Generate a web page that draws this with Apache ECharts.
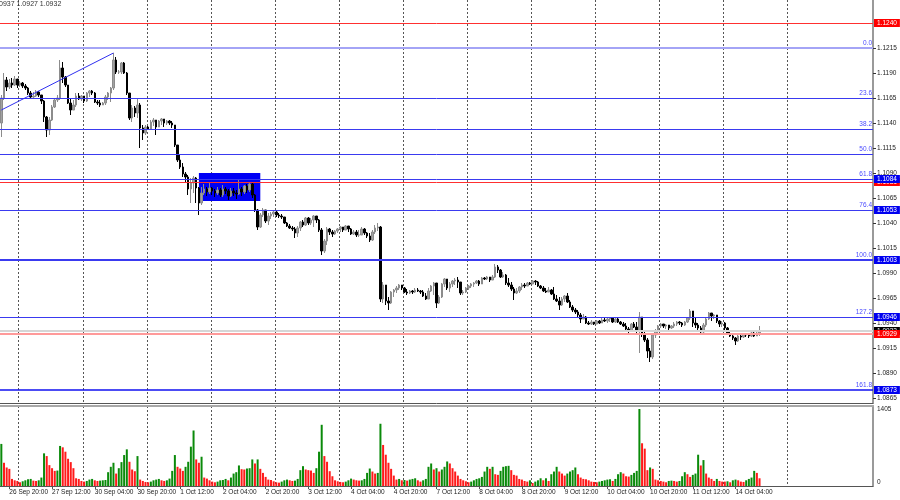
<!DOCTYPE html>
<html>
<head>
<meta charset="utf-8">
<script src="https://cdn.jsdelivr.net/npm/echarts@6/dist/echarts.min.js"></script>
<style>html,body{margin:0;padding:0;background:#fff}#c{width:900px;height:500px}</style>
</head>
<body>
<div id="c"></div>
<script>
// ---- data (EURUSD H1) ----
const headerText = '0937 1.0927 1.0932';
const open0 = 1.1140;
const closes = [
1.1165,1.1183,1.1176,1.1180,1.1178,1.1184,1.1178,1.1180,1.1177,1.1175,
1.1170,1.1166,1.1167,1.1171,1.1168,1.1162,1.1146,1.1133,1.1143,1.1156,
1.1163,1.1165,1.1195,1.1186,1.1178,1.1160,1.1153,1.1158,1.1167,1.1164,
1.1167,1.1162,1.1170,1.1172,1.1170,1.1161,1.1160,1.1158,1.1160,1.1166,
1.1170,1.1175,1.1203,1.1191,1.1191,1.1200,1.1190,1.1170,1.1145,1.1155,
1.1150,1.1158,1.1135,1.1130,1.1136,1.1134,1.1141,1.1143,1.1136,1.1142,
1.1144,1.1140,1.1142,1.1140,1.1138,1.1118,1.1103,1.1096,1.1089,1.1086,
1.1074,1.1080,1.1085,1.1075,1.1060,1.1070,1.1074,1.1071,1.1075,1.1072,
1.1070,1.1073,1.1068,1.1074,1.1072,1.1067,1.1072,1.1070,1.1069,1.1074,
1.1071,1.1077,1.1073,1.1079,1.1068,1.1053,1.1036,1.1048,1.1053,1.1042,
1.1047,1.1049,1.1051,1.1048,1.1047,1.1046,1.1040,1.1037,1.1035,1.1034,
1.1030,1.1035,1.1041,1.1038,1.1045,1.1040,1.1043,1.1047,1.1043,1.1033,
1.1012,1.1022,1.1034,1.1031,1.1029,1.1032,1.1034,1.1036,1.1033,1.1037,
1.1034,1.1029,1.1031,1.1028,1.1028,1.1034,1.1030,1.1027,1.1023,1.1031,
1.1035,1.1036,1.0964,1.0978,1.0962,1.0960,1.0971,1.0973,1.0975,1.0978,
1.0975,1.0971,1.0970,1.0972,1.0971,1.0973,1.0972,1.0971,1.0967,1.0964,
1.0972,1.0977,1.0980,1.0960,1.0966,1.0979,1.0984,1.0975,1.0979,1.0982,
1.0983,1.0981,1.0970,1.0971,1.0975,1.0977,1.0979,1.0980,1.0982,1.0979,
1.0985,1.0984,1.0986,1.0983,1.0986,1.0996,1.0993,1.0986,1.0988,1.0980,
1.0978,1.0974,1.0970,1.0972,1.0976,1.0978,1.0977,1.0980,1.0979,1.0982,
1.0981,1.0977,1.0975,1.0972,1.0971,1.0973,1.0969,1.0964,1.0962,1.0958,
1.0964,1.0967,1.0961,1.0956,1.0953,1.0951,1.0948,1.0944,1.0946,1.0940,
1.0939,1.0941,1.0939,1.0942,1.0940,1.0943,1.0942,1.0944,1.0945,1.0941,
1.0944,1.0941,1.0939,1.0937,1.0934,1.0932,1.0939,1.0936,1.0933,1.0946,
1.0929,1.0923,1.0912,1.0906,1.0928,1.0932,1.0937,1.0939,1.0937,1.0938,
1.0935,1.0937,1.0939,1.0941,1.0940,1.0938,1.0941,1.0945,1.0952,1.0940,
1.0938,1.0935,1.0931,1.0938,1.0944,1.0950,1.0947,1.0948,1.0942,1.0939,
1.0940,1.0935,1.0929,1.0927,1.0925,1.0922,1.0927,1.0926,1.0929,1.0928,
1.0927,1.0930,1.0927,1.0930,1.0932];
const highs = [
1.1168,1.1190,1.1186,1.1184,1.1185,1.1187,1.1184,1.1182,1.1181,1.1179,
1.1176,1.1172,1.1171,1.1173,1.1172,1.1168,1.1163,1.1147,1.1146,1.1158,
1.1165,1.1168,1.1203,1.1201,1.1187,1.1178,1.1165,1.1163,1.1170,1.1170,
1.1168,1.1166,1.1171,1.1173,1.1173,1.1171,1.1163,1.1163,1.1161,1.1168,
1.1171,1.1176,1.1210,1.1206,1.1193,1.1201,1.1201,1.1191,1.1170,1.1158,
1.1157,1.1165,1.1160,1.1138,1.1138,1.1137,1.1143,1.1145,1.1143,1.1143,
1.1145,1.1143,1.1143,1.1143,1.1142,1.1138,1.1118,1.1108,1.1100,1.1091,
1.1088,1.1085,1.1087,1.1086,1.1076,1.1076,1.1079,1.1076,1.1080,1.1076,
1.1074,1.1076,1.1075,1.1078,1.1076,1.1074,1.1075,1.1075,1.1073,1.1083,
1.1076,1.1078,1.1079,1.1080,1.1080,1.1069,1.1054,1.1050,1.1055,1.1053,
1.1050,1.1051,1.1053,1.1052,1.1050,1.1049,1.1046,1.1041,1.1039,1.1037,
1.1036,1.1037,1.1042,1.1043,1.1046,1.1046,1.1045,1.1048,1.1047,1.1044,
1.1035,1.1024,1.1036,1.1035,1.1033,1.1033,1.1035,1.1037,1.1036,1.1038,
1.1037,1.1035,1.1033,1.1033,1.1033,1.1036,1.1035,1.1031,1.1030,1.1033,
1.1038,1.1040,1.1037,1.0981,1.0976,1.0966,1.0972,1.0974,1.0977,1.0979,
1.0978,1.0976,1.0974,1.0973,1.0973,1.0975,1.0975,1.0973,1.0973,1.0970,
1.0975,1.0978,1.0981,1.0979,1.0968,1.0980,1.0985,1.0983,1.0981,1.0983,
1.0985,1.0986,1.0980,1.0973,1.0976,1.0978,1.0980,1.0981,1.0983,1.0983,
1.0986,1.0986,1.0987,1.0986,1.0988,1.0999,1.0998,1.0994,1.0991,1.0989,
1.0985,1.0981,1.0976,1.0975,1.0977,1.0980,1.0980,1.0981,1.0981,1.0983,
1.0983,1.0982,1.0978,1.0977,1.0975,1.0976,1.0974,1.0976,1.0968,1.0966,
1.0966,1.0968,1.0970,1.0963,1.0958,1.0955,1.0953,1.0950,1.0949,1.0947,
1.0942,1.0943,1.0941,1.0943,1.0943,1.0945,1.0945,1.0946,1.0946,1.0945,
1.0946,1.0945,1.0942,1.0941,1.0940,1.0936,1.0940,1.0941,1.0941,1.0951,
1.0944,1.0931,1.0925,1.0915,1.0930,1.0934,1.0938,1.0940,1.0939,1.0939,
1.0938,1.0938,1.0941,1.0942,1.0942,1.0941,1.0942,1.0946,1.0954,1.0952,
1.0945,1.0940,1.0937,1.0940,1.0945,1.0951,1.0950,1.0949,1.0947,1.0943,
1.0942,1.0941,1.0936,1.0931,1.0928,1.0926,1.0928,1.0930,1.0930,1.0930,
1.0930,1.0931,1.0931,1.0933,1.0937];
const lows = [
1.1126,1.1163,1.1172,1.1174,1.1175,1.1177,1.1175,1.1176,1.1175,1.1173,
1.1168,1.1164,1.1164,1.1166,1.1166,1.1159,1.1141,1.1126,1.1128,1.1142,
1.1155,1.1161,1.1163,1.1180,1.1176,1.1159,1.1148,1.1153,1.1156,1.1163,
1.1162,1.1160,1.1161,1.1166,1.1168,1.1160,1.1158,1.1156,1.1158,1.1158,
1.1163,1.1161,1.1173,1.1189,1.1189,1.1189,1.1189,1.1168,1.1143,1.1141,
1.1146,1.1145,1.1115,1.1123,1.1128,1.1133,1.1134,1.1137,1.1128,1.1136,
1.1138,1.1136,1.1138,1.1138,1.1135,1.1116,1.1101,1.1094,1.1086,1.1081,
1.1068,1.1060,1.1070,1.1060,1.1048,1.1058,1.1068,1.1067,1.1069,1.1068,
1.1066,1.1068,1.1066,1.1066,1.1069,1.1063,1.1066,1.1067,1.1064,1.1068,
1.1067,1.1069,1.1070,1.1071,1.1065,1.1051,1.1033,1.1035,1.1046,1.1040,
1.1038,1.1044,1.1046,1.1046,1.1045,1.1044,1.1039,1.1036,1.1034,1.1032,
1.1025,1.1026,1.1032,1.1036,1.1037,1.1038,1.1038,1.1036,1.1040,1.1031,
1.1008,1.1010,1.1018,1.1028,1.1026,1.1028,1.1030,1.1031,1.1031,1.1033,
1.1031,1.1028,1.1028,1.1026,1.1026,1.1028,1.1028,1.1025,1.1021,1.1022,
1.1029,1.1032,1.0961,1.0960,1.0958,1.0953,1.0959,1.0966,1.0970,1.0973,
1.0973,1.0970,1.0968,1.0969,1.0969,1.0970,1.0971,1.0969,1.0966,1.0963,
1.0964,1.0971,1.0968,1.0955,1.0959,1.0965,1.0976,1.0973,1.0971,1.0976,
1.0978,1.0975,1.0968,1.0968,1.0970,1.0973,1.0975,1.0976,1.0979,1.0977,
1.0979,1.0983,1.0983,1.0981,1.0983,1.0985,1.0990,1.0985,1.0985,1.0978,
1.0976,1.0972,1.0963,1.0969,1.0970,1.0973,1.0975,1.0977,1.0978,1.0979,
1.0978,1.0976,1.0974,1.0971,1.0970,1.0971,1.0968,1.0963,1.0961,1.0953,
1.0957,1.0961,1.0960,1.0955,1.0951,1.0949,1.0946,1.0940,1.0944,1.0939,
1.0938,1.0938,1.0938,1.0939,1.0939,1.0940,1.0941,1.0940,1.0941,1.0940,
1.0940,1.0940,1.0938,1.0936,1.0933,1.0930,1.0931,1.0935,1.0930,1.0910,
1.0926,1.0921,1.0905,1.0901,1.0904,1.0925,1.0929,1.0935,1.0935,1.0934,
1.0933,1.0934,1.0935,1.0937,1.0938,1.0936,1.0937,1.0940,1.0943,1.0936,
1.0935,1.0933,1.0930,1.0930,1.0936,1.0943,1.0942,1.0944,1.0940,1.0936,
1.0936,1.0933,1.0928,1.0926,1.0923,1.0918,1.0921,1.0923,1.0925,1.0926,
1.0925,1.0926,1.0926,1.0928,1.0927];
const volumes = [
768,424,338,313,129,104,92,68,86,104,
123,129,98,92,104,154,596,546,381,325,
276,282,731,706,626,497,436,325,141,129,
92,80,92,117,129,104,92,98,104,110,
252,350,424,227,325,436,565,669,442,301,
270,546,117,92,74,
68,80,104,117,129,104,92,104,135,276,
565,350,319,276,350,442,718,1013,485,424,
534,154,135,104,
80,68,80,104,110,129,104,154,227,252,
375,307,301,319,325,485,411,485,313,239,
166,117,110,86,
68,61,80,104,117,104,92,98,129,289,
362,301,289,282,239,325,626,1117,546,442,
270,178,104,86,
74,68,80,104,135,117,104,98,104,129,
239,319,264,227,239,1136,749,571,424,313,
190,117,129,104,
110,98,117,129,141,104,80,104,129,350,
411,301,325,264,301,350,448,411,325,264,
190,129,104,86,
68,80,104,129,141,166,264,350,313,350,
215,203,276,350,362,368,289,203,190,129,
117,92,80,104,
55,80,104,141,104,141,92,215,264,350,
264,227,190,227,264,289,338,215,154,129,
123,104,80,74,
68,80,92,104,117,123,92,129,215,252,
227,178,172,203,239,276,1405,
780,682,289,338,313,117,104,92,80,68,
92,98,92,80,92,178,252,215,166,203,
227,571,375,473,227,154,129,92,129,92,
80,80,86,68,104,117,104,80,74,104,
129,154,276,239,141];
const totalSlots = 327;
const timeLabels = ['26 Sep 20:00','27 Sep 12:00','30 Sep 04:00','30 Sep 20:00','1 Oct 12:00','2 Oct 04:00',
  '2 Oct 20:00','3 Oct 12:00','4 Oct 04:00','4 Oct 20:00','7 Oct 12:00','8 Oct 04:00','8 Oct 20:00',
  '9 Oct 12:00','10 Oct 04:00','10 Oct 20:00','11 Oct 12:00','14 Oct 04:00'];
const timeLabelBars = [3,19,35,51,67,83,99,115,131,147,163,179,195,211,227,243,259,275];
const dayStartBars = [7,31,55,79,103,127,151,175,199,223,247,271,295];
const priceTicks = [1.0865,1.0890,1.0915,1.0940,1.0965,1.0990,1.1015,1.1040,1.1065,1.1090,1.1115,1.1140,1.1165,1.1190,1.1215];
const volumeTicks = [0,1405];
const fibLevels = ['0.0','23.6','38.2','50.0','61.8','76.4','100.0','127.2','161.8'];
const fibPrices = [1.1215,1.1165,1.1134,1.1109,1.1084,1.1053,1.1003,1.0946,1.0873];
const fibBoxPrices = [1.1084,1.1053,1.1003,1.0946,1.0873];
const redLinePrices = [1.1240,1.1081];
const bidPrice = 1.0929;
const askPrice = 1.0932;
const trendLine = [[0,1.1153],[42,1.1210]];
const zoneBars = [74,97];
const zonePrices = [1.1090,1.1062];

// ---- build ----
const cats = Array.from({length: totalSlots}, (_, i) => String(i));
const labelMap = {};
timeLabelBars.forEach((b, k) => { labelMap[b] = timeLabels[k]; });
const daySet = new Set(dayStartBars);
const candles = closes.map((c, i) => {
  const o = i === 0 ? open0 : closes[i - 1];
  return [o, c, Math.min(lows[i], o, c), Math.max(highs[i], o, c)];
});
const volData = volumes.map((v, i) => ({
  value: v,
  itemStyle: { color: (i === 0 || v > volumes[i - 1]) ? '#0a8a0a' : '#ff1a1a' }
}));
const FONT = 'Liberation Sans, Arial, sans-serif';
const fibColor = '#3a3af0';
const fibLineData = fibLevels.map((name, k) => ({
  yAxis: fibPrices[k], name: name,
  lineStyle: k === 0 ? { color: '#a4a4f6', width: 2, type: 'solid' }
          : (k === 6 ? { color: fibColor, width: 2, type: 'solid' }
          : (k === 8 ? { color: '#1010f0', width: 1.6, type: 'solid' } : { color: fibColor, width: 1, type: 'solid' }))
}));
function box(v, bg) {
  return { yAxis: v, label: { backgroundColor: bg } };
}
const boxData = [
  box(redLinePrices[0], '#ff0000'),
  box(redLinePrices[1], '#ff0000'),
  ...fibBoxPrices.map(p => box(p, '#0000f0')),
  box(askPrice, '#000000'),
  box(bidPrice, '#ff0000')
];

const option = {
  animation: false,
  backgroundColor: '#ffffff',
  textStyle: { fontFamily: FONT },
  title: { text: headerText, left: -1, top: 1, padding: 0,
    textStyle: { fontSize: 7, fontWeight: 'normal', color: '#333', fontFamily: FONT } },
  grid: [
    { left: 0, right: 27, top: 0, bottom: 97 },
    { left: 0, right: 27, top: 406, bottom: 14 }
  ],
  xAxis: [
    { type: 'category', gridIndex: 0, data: cats, boundaryGap: true,
      axisLine: { show: true, onZero: false, lineStyle: { color: '#555', width: 1 } },
      axisTick: { show: false }, axisLabel: { show: false },
      splitLine: { show: true, interval: (i) => daySet.has(i), lineStyle: { color: '#555', width: 1, type: [2, 2] } } },
    { type: 'category', gridIndex: 1, data: cats, boundaryGap: true, position: 'bottom',
      axisLine: { show: true, onZero: false, lineStyle: { color: '#555', width: 1 } },
      axisTick: { show: true, alignWithLabel: true, length: 3, interval: (i) => labelMap[i] !== undefined, lineStyle: { color: '#555' } },
      axisLabel: { show: true, interval: (i) => labelMap[i] !== undefined, formatter: (v) => labelMap[Number(v)] || '',
        align: 'left', margin: 3, fontSize: 6.5, color: '#222', fontFamily: FONT },
      splitLine: { show: true, interval: (i) => daySet.has(i), lineStyle: { color: '#555', width: 1, type: [2, 2] } } },
    { type: 'category', gridIndex: 1, data: cats, boundaryGap: true, position: 'top',
      axisLine: { show: true, onZero: false, lineStyle: { color: '#a8a8a8', width: 2 } },
      axisTick: { show: false }, axisLabel: { show: false }, splitLine: { show: false } }
  ],
  yAxis: [
    { type: 'value', gridIndex: 0, position: 'right', min: 1.0860, max: 1.1263,
      axisLine: { show: true, lineStyle: { color: '#9a9a9a', width: 2 } },
      axisTick: { show: true, customValues: priceTicks, length: 3, lineStyle: { color: '#333' } },
      axisLabel: { show: true, customValues: priceTicks, formatter: (v) => v.toFixed(4), margin: 4,
        fontSize: 6.5, color: '#222', fontFamily: FONT },
      splitLine: { show: false } },
    { type: 'value', gridIndex: 1, position: 'right', min: 0, max: 1460,
      axisLine: { show: true, lineStyle: { color: '#9a9a9a', width: 2 } },
      axisTick: { show: false },
      axisLabel: { show: true, customValues: volumeTicks, margin: 4, fontSize: 6.5, color: '#222', fontFamily: FONT,
        formatter: (v) => v === 0 ? '{z|0}' : String(v),
        rich: { z: { fontSize: 6.5, color: '#222', padding: [0, 0, 8, 0], fontFamily: FONT } } },
      splitLine: { show: false } }
  ],
  series: [
    { name: 'price', type: 'candlestick', xAxisIndex: 0, yAxisIndex: 0, data: candles, barWidth: 2, z: 3,
      itemStyle: { color: '#a2a2a2', color0: '#000000', borderColor: '#8c8c8c', borderColor0: '#000000', borderWidth: 1 },
      markArea: { silent: true, z: 1,
        itemStyle: { color: '#0000f5', opacity: 1 },
        data: [[{ xAxis: zoneBars[0], yAxis: zonePrices[0] }, { xAxis: zoneBars[1], yAxis: zonePrices[1] }]] } },
    { name: 'trend', type: 'line', xAxisIndex: 0, yAxisIndex: 0, data: trendLine, symbol: 'none', z: 4,
      lineStyle: { color: '#3030f0', width: 1 },
      markLine: { silent: true, symbol: ['none', 'none'], z: 4, precision: 4,
        label: { show: true, position: 'insideEndTop', distance: 1, formatter: '{b}', color: '#4a4aff', fontSize: 6.5, fontFamily: FONT },
        data: fibLineData } },
    { name: 'levels', type: 'line', xAxisIndex: 0, yAxisIndex: 0, data: [], symbol: 'none', z: 4,
      markLine: { silent: true, symbol: ['none', 'none'], z: 4, precision: 4, label: { show: false },
        data: [
          { yAxis: redLinePrices[0], lineStyle: { color: '#ff3030', width: 1, type: 'solid' } },
          { yAxis: redLinePrices[1], lineStyle: { color: '#ff3030', width: 1, type: 'solid' } },
          { yAxis: askPrice, lineStyle: { color: '#d6d6d6', width: 2, type: 'solid' } },
          { yAxis: bidPrice, lineStyle: { color: '#ff9a9a', width: 2, type: 'solid' } }
        ] } },
    { name: 'boxes', type: 'line', xAxisIndex: 0, yAxisIndex: 0, data: [], symbol: 'none', z: 6,
      markLine: { silent: true, symbol: ['none', 'none'], z: 6, precision: 4,
        lineStyle: { color: 'rgba(0,0,0,0)', width: 1, type: 'solid' },
        label: { show: true, position: 'end', distance: 1, color: '#ffffff', fontSize: 6.5, fontFamily: FONT,
          lineHeight: 7, padding: [1, 3, 0, 3], formatter: (p) => Number(p.value).toFixed(4) },
        data: boxData } },
    { name: 'volume', type: 'bar', xAxisIndex: 1, yAxisIndex: 1, data: volData, barWidth: 2 }
  ]
};
const chart = echarts.init(document.getElementById('c'), null, { renderer: 'canvas' });
chart.setOption(option);
</script>
</body>
</html>
